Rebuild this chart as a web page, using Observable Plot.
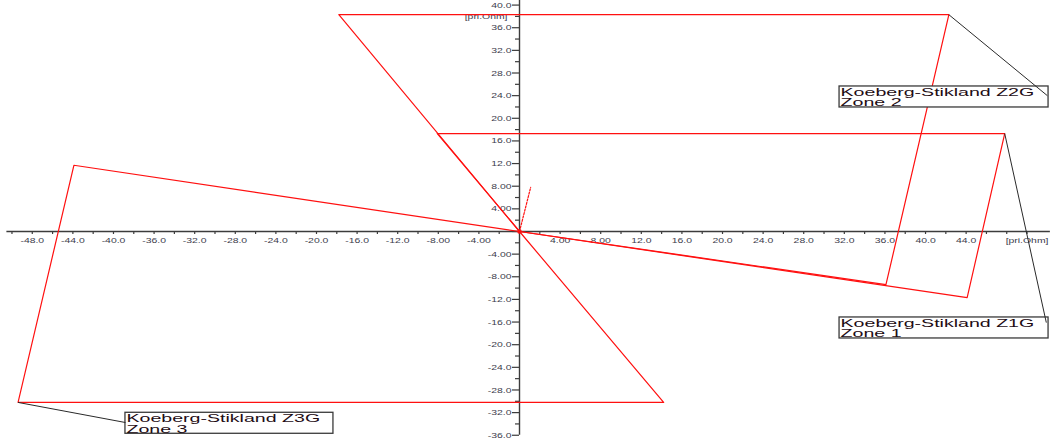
<!DOCTYPE html>
<html>
<head>
<meta charset="utf-8">
<script src="https://cdn.jsdelivr.net/npm/d3@7"></script>
<script src="https://cdn.jsdelivr.net/npm/@observablehq/plot@0.6"></script>
<style>
  body { margin: 0; background: #fff; }
  svg { display: block; }
</style>
</head>
<body>
<div id="chart"></div>
<script>
// Quadrilateral ground-distance zones, vertices as [R, X] in primary ohms
const zone1 = [[0, 0], [-8.1, 17.3], [47.8, 17.3], [44.1, -11.7], [0, 0]];
const zone2 = [[0, 0], [-17.8, 38.3], [42.3, 38.3], [36.1, -9.4], [0, 0]];
const zone3 = [[0, 0], [-43.9, 11.7], [-49.4, -30.2], [14.2, -30.2], [0, 0]];
// Measured impedance trajectory near the origin
const trajectory = [[0, 0], [1.1, 7.8]];

const zoneNames = ["Koeberg-Stikland Z1G", "Koeberg-Stikland Z2G", "Koeberg-Stikland Z3G"];
const zoneTitles = ["Zone 1", "Zone 2", "Zone 3"];
const unitLabel = "[pri.Ohm]";

const xTickLabels = d3.range(-48, 45, 4).filter(v => v !== 0);
const yTickLabels = d3.range(-36, 41, 4).filter(v => v !== 0);
const xTicks = d3.range(-50, 51, 2);
const yTicks = d3.range(-36, 41, 2);

// Plot frame
const W = 1051, H = 439;
const xDomain = [-51.13, 52.41];
const yDomain = [-36.75, 40.81];
const pxX = W / (xDomain[1] - xDomain[0]);   // pixels per ohm, R axis
const pxY = H / (yDomain[1] - yDomain[0]);   // pixels per ohm, X axis

// Annotation boxes (data units), leader from the zone's reach corner
const zones = [zone1, zone2, zone3];
const boxes = [
  {x1: 31.53, x2: 52.12, top: -15.19, bottom: -18.90, end: [51.9, -16.1], from: zone1[2]},
  {x1: 31.53, x2: 52.12, top: 25.62, bottom: 21.91, end: [52.0, 24.0], from: zone2[2]},
  {x1: -38.82, x2: -18.33, top: -32.03, bottom: -35.74, end: [-38.82, -33.75], from: zone3[2]}
].map((b, i) => ({...b, name: zoneNames[i], title: zoneTitles[i]}));

const fmt = v => Math.abs(v) < 10 ? v.toFixed(2) : v.toFixed(1);
const axisColor = "#3c3c3c";
const labelColor = "#3d3d4c";
const red = "#ff1010";

const zoneRows = zones.flatMap((z, i) => z.map(([r, x]) => ({r, x, zone: zoneTitles[i]})));

const svg = Plot.plot({
  width: W,
  height: H,
  margin: 0,
  x: {domain: xDomain, axis: null},
  y: {domain: yDomain, axis: null},
  style: {background: "#fff", fontFamily: "'Liberation Sans', Arial, sans-serif"},
  marks: [
    // axes through the origin
    Plot.ruleY([0], {x1: -50.5, x2: 52.3, stroke: axisColor, strokeWidth: 1.4}),
    Plot.ruleX([0], {y1: -36.0, y2: yDomain[1], stroke: axisColor, strokeWidth: 1.4}),
    Plot.ruleX(xTicks, {x: d => d, y1: 0, y2: -3 / pxY, stroke: axisColor, strokeWidth: 1.2}),
    Plot.ruleY(yTicks, {y: d => d, x1: d => (d % 4 === 0 ? -7 : -4) / pxX, x2: 0, stroke: axisColor, strokeWidth: 1.2}),
    Plot.text(xTickLabels, {x: d => d, y: 0, dy: 9, text: fmt, fontSize: 8, fill: labelColor}),
    Plot.text(yTickLabels, {x: 0, y: d => d, dx: -8, text: fmt, fontSize: 8, fill: labelColor, textAnchor: "end"}),
    Plot.text([unitLabel], {x: 50, y: 0, dy: 9, text: d => d, fontSize: 8, fill: labelColor}),
    Plot.text([unitLabel], {x: 0, y: 38, dx: -12, text: d => d, fontSize: 8, fill: labelColor, textAnchor: "end"}),

    // zone characteristics
    Plot.line(zoneRows, {x: "r", y: "x", z: "zone", stroke: red, strokeWidth: 1.2, curve: "linear"}),
    Plot.line(trajectory, {x: d => d[0], y: d => d[1], stroke: red, strokeWidth: 1.2, strokeDasharray: "2,1.5"}),
    Plot.dot([[0, 0]], {x: d => d[0], y: d => d[1], r: 2.3, fill: red, stroke: null}),

    // zone annotations
    Plot.rect(boxes, {x1: "x1", x2: "x2", y1: "bottom", y2: "top", fill: "#fff", stroke: "#3a3a3a", strokeWidth: 1.3}),
    Plot.link(boxes, {x1: d => d.from[0], y1: d => d.from[1], x2: d => d.end[0], y2: d => d.end[1], stroke: "#2a2a2a", strokeWidth: 1}),
    Plot.text(boxes, {x: "x1", y: "top", dx: 1, dy: 9.5, text: "name", textAnchor: "start", lineAnchor: "bottom", fontSize: 11, fill: "#1e0c14"}),
    Plot.text(boxes, {x: "x1", y: "top", dx: 1, dy: 20, text: "title", textAnchor: "start", lineAnchor: "bottom", fontSize: 11, fill: "#1e0c14"})
  ]
});

document.getElementById("chart").append(svg);

// widen the lettering horizontally, as the relay software renders it
const zoneText = new Set([...zoneNames, ...zoneTitles]);
svg.querySelectorAll("text").forEach(t => {
  const factor = zoneText.has(t.textContent) ? 1.78 : 1.3;
  const len = t.getComputedTextLength();
  if (len > 0) {
    t.setAttribute("textLength", (len * factor).toFixed(1));
    t.setAttribute("lengthAdjust", "spacingAndGlyphs");
  }
});
</script>
</body>
</html>
